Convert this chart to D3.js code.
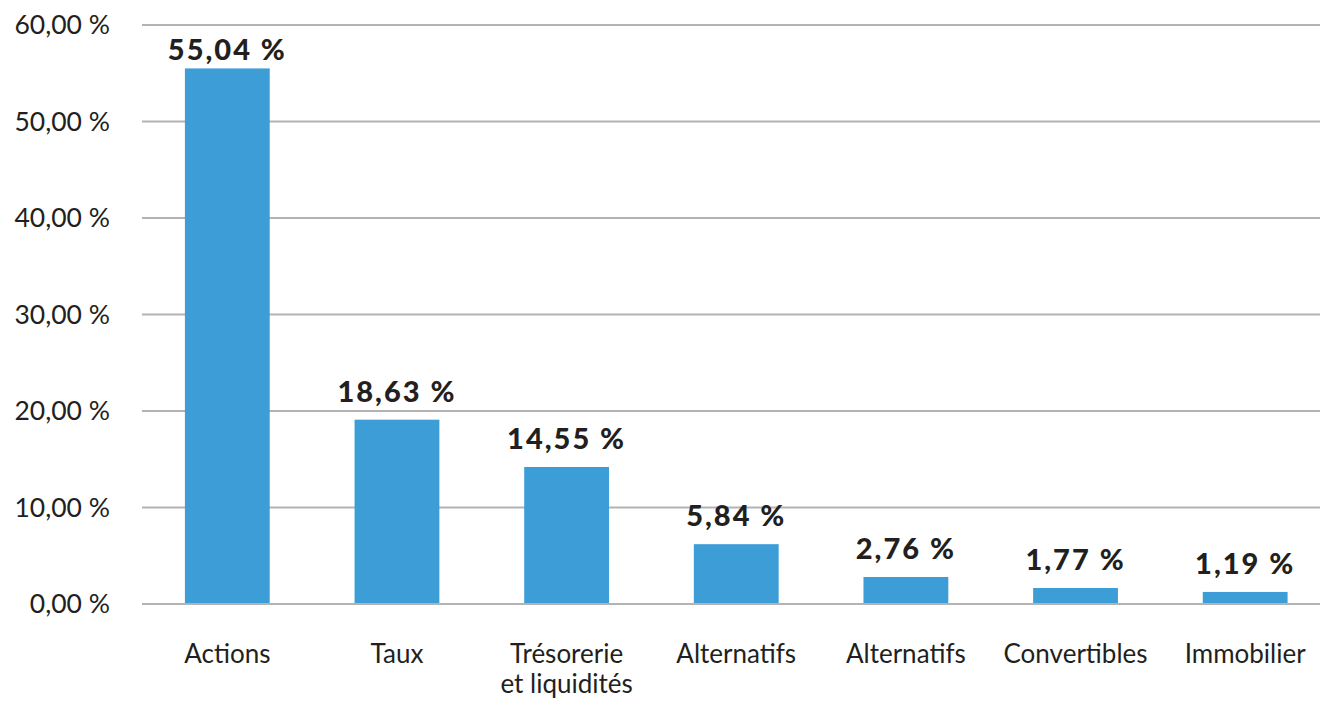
<!DOCTYPE html>
<html>
<head>
<meta charset="utf-8">
<script src="https://cdn.jsdelivr.net/npm/d3@7"></script>
<style>
  body { margin: 0; background: #fff; }
  text { font-family: "Lato", "DejaVu Sans", sans-serif; fill: #231f20; }
</style>
</head>
<body>
<div id="chart"></div>
<script>
// categories (multi-line labels split on \n)
const categories = ['Actions', 'Taux', 'Trésorerie\net liquidités', 'Alternatifs', 'Alternatifs', 'Convertibles', 'Immobilier']
// bar heights as drawn in the picture
const values = [55.5, 19.1, 14.2, 6.2, 2.8, 1.66, 1.25]
// value labels printed above the bars
const valueLabels = ['55,04 %', '18,63 %', '14,55 %', '5,84 %', '2,76 %', '1,77 %', '1,19 %']
const yTicks = [0, 10, 20, 30, 40, 50, 60]

const width = 1320
const height = 702

const svg = d3.select('#chart')
  .append('svg')
  .attr('width', width)
  .attr('height', height)

const x = d3.scaleBand()
  .domain(d3.range(categories.length))
  .range([142.5, 1330])
  .paddingInner(0.5)
  .paddingOuter(0.25)

const y = d3.scaleLinear()
  .domain([0, 60])
  .range([604, 25])

// gridlines
svg.append('g')
  .selectAll('line')
  .data(yTicks)
  .join('line')
  .attr('x1', 142)
  .attr('x2', width)
  .attr('y1', d => y(d))
  .attr('y2', d => y(d))
  .attr('stroke', '#b3b3b3')
  .attr('stroke-width', 2)

// y tick labels
svg.append('g')
  .selectAll('text')
  .data(yTicks)
  .join('text')
  .attr('x', 110)
  .attr('y', d => y(d))
  .attr('dy', '0.35em')
  .attr('text-anchor', 'end')
  .style('font-size', '26.5px')
  .text(d => d3.format('.2f')(d).replace('.', ',') + ' %')

// bars
svg.append('g')
  .selectAll('rect')
  .data(values)
  .join('rect')
  .attr('x', (d, i) => x(i))
  .attr('width', x.bandwidth())
  .attr('y', d => y(d))
  .attr('height', d => y(0) - y(d) - 1)
  .attr('fill', '#3d9dd7')

// value labels
svg.append('g')
  .selectAll('text')
  .data(values)
  .join('text')
  .attr('x', (d, i) => x(i) + x.bandwidth() / 2)
  .attr('y', d => Math.max(y(d) - 18, 60))
  .attr('text-anchor', 'middle')
  .style('font-size', '29px')
  .style('font-weight', '900')
  .style('letter-spacing', '2px')
  .text((d, i) => valueLabels[i])

// category labels, one text per line
const lines = categories.flatMap((c, i) => c.split('\n').map((t, j) => ({ i, j, t })))

svg.append('g')
  .selectAll('text')
  .data(lines)
  .join('text')
  .attr('x', d => x(d.i) + x.bandwidth() / 2)
  .attr('y', d => 663 + d.j * 30)
  .attr('text-anchor', 'middle')
  .style('font-size', '26px')
  .text(d => d.t)
</script>
</body>
</html>
